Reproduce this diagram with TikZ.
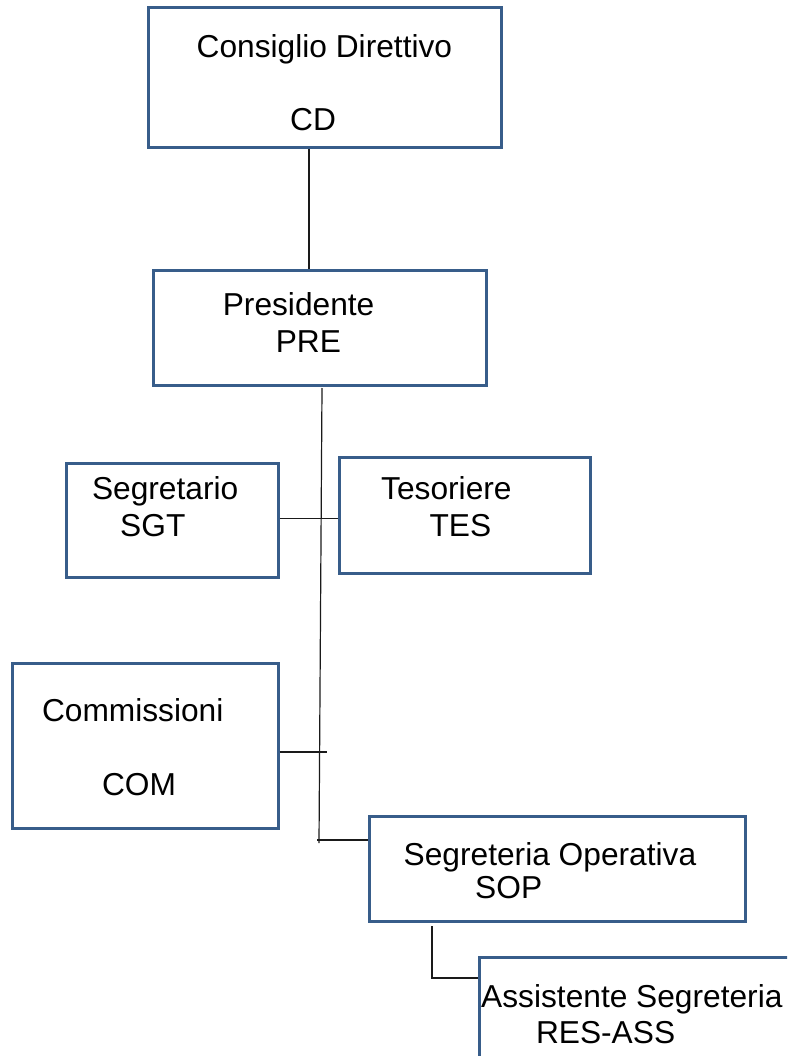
\documentclass[tikz,border=0pt]{standalone}
\usepackage{fontspec}
\setmainfont{Liberation Sans}
\definecolor{boxblue}{HTML}{385D8A}
\definecolor{wire}{HTML}{1A1A1A}

\begin{document}
\begin{tikzpicture}[x=1pt, y=-1pt,
    orgbox/.style={draw=boxblue, line width=3pt, inner sep=0pt},
    lbl/.style={anchor=base west, inner sep=0pt, font=\fontsize{31.7}{38}\selectfont},
    link/.style={draw=wire, line width=1.2pt}]
  \useasboundingbox (0,0) rectangle (787,1056);
  \clip (0,0) rectangle (787,1056);
  % boxes
  \foreach \name/\cx/\cy/\w/\h in {CD/324.5/78/353/140, PRE/319.5/328/333/114,
      SGT/172/520/212/114, TES/464.5/515/251/116, COM/145/745.5/266/165,
      SOP/557/868.5/376/105, ASS/640/1015/322/116}
    \node[orgbox, minimum width=\w, minimum height=\h] (\name) at (\cx,\cy) {};
  % labels
  \foreach \name/\x/\y/\txt in {CDa/196.5/57.5/Consiglio Direttivo, CDb/290/131/CD,
      PREa/222.6/315/Presidente, PREb/275.6/352/PRE,
      SGTa/91.8/499.5/Segretario, SGTb/120/536/SGT,
      TESa/381/499/Tesoriere, TESb/429.3/536/TES,
      COMa/41.8/721/Commissioni, COMb/101.8/795/COM,
      SOPa/403.5/865/Segreteria Operativa, SOPb/475/898/SOP,
      ASSa/481/1007/Assistente Segreteria, ASSb/535.8/1043/RES-ASS}
    \node[lbl] (\name) at (\x,\y) {\txt};
  % connectors
  \coordinate (cdFoot) at ([xshift=-15.5]CD.south);
  \coordinate (spineTop) at (322,388);
  \coordinate (spineBot) at (319,843);
  \coordinate (stTie) at (0,518.5);
  \coordinate (comTip) at (327,752);
  \coordinate (sopTail) at (317,840);
  \coordinate (sopDrop) at (432,926);
  \coordinate (assTie) at (0,978);
  \draw[link] (cdFoot) -- (cdFoot |- PRE.north);
  \draw[link] (spineTop) -- (spineBot);
  \draw[link] (SGT.east |- stTie) -- (TES.west |- stTie);
  \draw[link] (COM.east |- comTip) -- (comTip);
  \draw[link] (sopTail) -- (SOP.west |- sopTail);
  \draw[link] (sopDrop) |- (ASS.west |- assTie);
\end{tikzpicture}
\end{document}
